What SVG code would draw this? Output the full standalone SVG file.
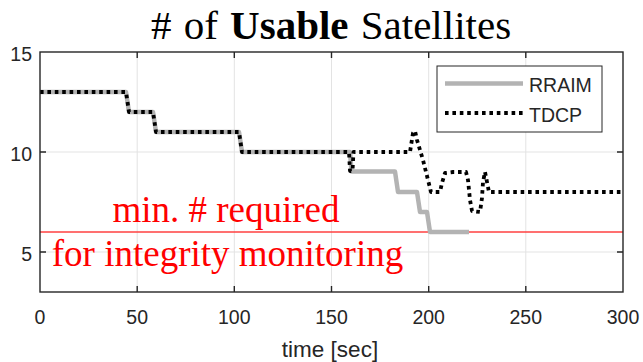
<svg xmlns="http://www.w3.org/2000/svg" width="643" height="362" viewBox="0 0 643 362">
<style>
.tick{font-family:"Liberation Sans",Arial,sans-serif;font-size:19.5px;fill:#262626}
.grid{stroke:#e3e3e3;stroke-width:1;fill:none}
.axis{stroke:#262626;stroke-width:1.4;fill:none}
.rraim{stroke:#b3b3b3;stroke-width:4.5;fill:none;stroke-linejoin:round;stroke-linecap:butt}
.tdcp{stroke:#000;stroke-width:3.8;fill:none;stroke-dasharray:3.6 3.8;stroke-linejoin:round}
.red{font-family:"Liberation Serif","Times New Roman",serif;font-size:37px;fill:#ff0000}
</style>
<rect width="643" height="362" fill="#fff"/>
<g id="title">
<text x="331" y="39" text-anchor="middle" font-family="'Liberation Serif','Times New Roman',serif" font-size="41" word-spacing="2" fill="#000"># of <tspan font-weight="bold">Usable</tspan> Satellites</text>
</g>
<g id="grid">
<path class="grid" d="M137.2 52V292M234.3 52V292M331.5 52V292M428.7 52V292M525.8 52V292M40 152H623M40 252H623"/>
</g>
<g id="threshold">
<line x1="40" y1="232" x2="623" y2="232" stroke="#ff4040" stroke-width="1.3"/>
</g>
<g id="series">
<path id="rraim" class="rraim" d="M40 92L126 92L129 112L153 112L156 132L239 132L242 152L350 152L351.5 171.5L395 171.5L398 192L417 192L420 212L427 212L430 232L469 232"/>
<path id="tdcp" class="tdcp" d="M40 92L126 92L129 112L153 112L156 132L239 132L242 152L349 152L350 171L352.5 171L353.5 152L410 152L413 133L415 131L417 140L423 160L428 180L431 192L440 192L442 183L445 173L453 172L466 172L468 180L470 200L472 211L480 212L482 198L483 182L485 172L487 182L489 192L623 192"/>
</g>
<g id="axes">
<rect class="axis" x="40" y="52" width="583" height="240"/>
<path class="axis" d="M137.2 292v-6M234.3 292v-6M331.5 292v-6M428.7 292v-6M525.8 292v-6M137.2 52v6M234.3 52v6M331.5 52v6M428.7 52v6M525.8 52v6M40 152h6M40 252h6M623 152h-6M623 252h-6"/>
</g>
<g id="yticks" class="tick" text-anchor="end">
<text x="32" y="61">15</text>
<text x="32" y="161">10</text>
<text x="32" y="261">5</text>
</g>
<g id="xticks" class="tick" text-anchor="middle">
<text x="40" y="323.5">0</text>
<text x="137.2" y="323.5">50</text>
<text x="234.3" y="323.5">100</text>
<text x="331.5" y="323.5">150</text>
<text x="428.7" y="323.5">200</text>
<text x="525.8" y="323.5">250</text>
<text x="623" y="323.5">300</text>
</g>
<g id="xlabel">
<text x="330" y="356.5" text-anchor="middle" font-family="'Liberation Sans',Arial,sans-serif" font-size="22.5" fill="#262626">time [sec]</text>
</g>
<g id="annotation" class="red" text-anchor="middle">
<text x="226" y="221.5">min. # required</text>
<text x="227.5" y="266">for integrity monitoring</text>
</g>
<g id="legend">
<rect x="437" y="66" width="165" height="66" fill="#fff" stroke="#262626" stroke-width="1"/>
<line class="rraim" x1="445" y1="83.5" x2="523" y2="83.5"/>
<line class="tdcp" x1="445" y1="113" x2="523" y2="113"/>
<text class="tick" x="529" y="92.3" font-size="20">RRAIM</text>
<text class="tick" x="529" y="121.7" font-size="20">TDCP</text>
</g>
</svg>
